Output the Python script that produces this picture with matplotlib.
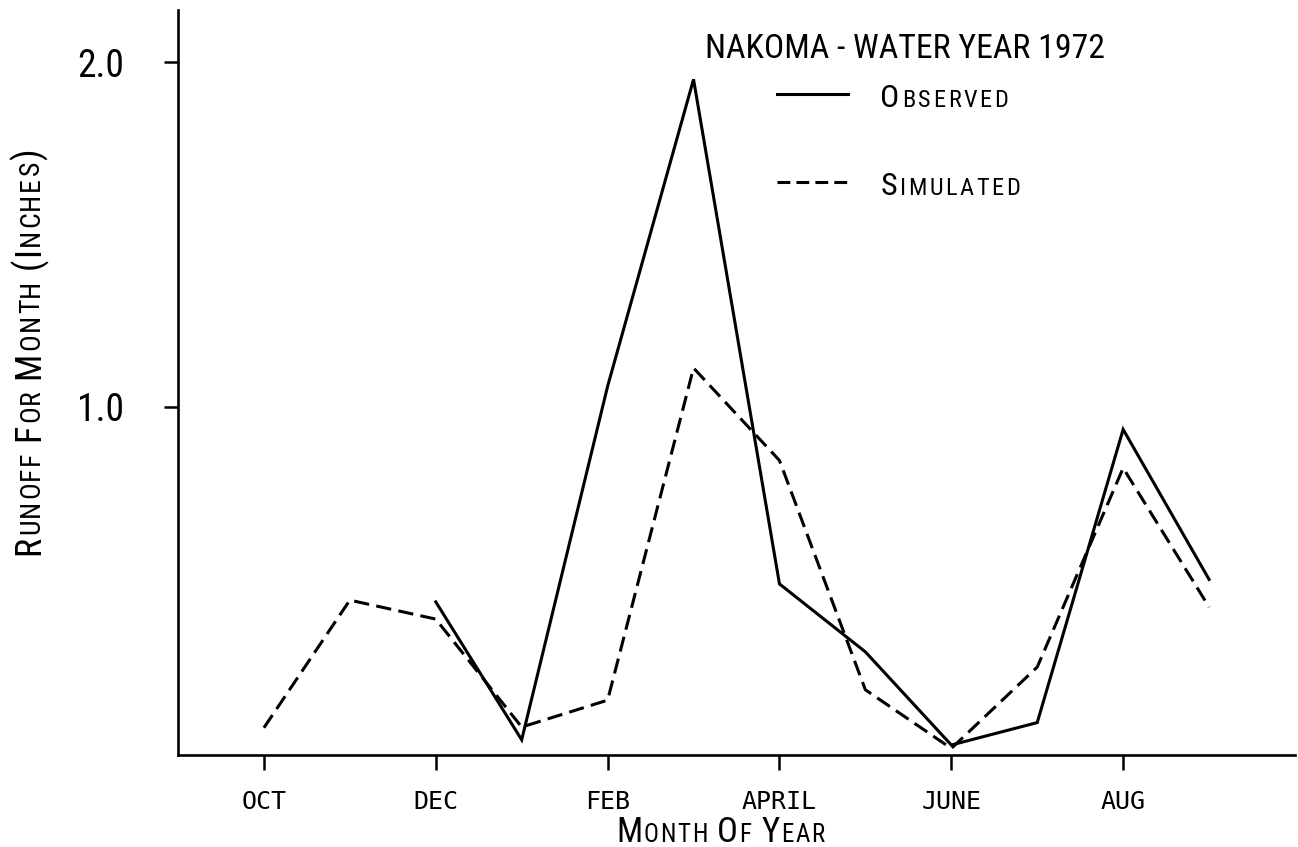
import numpy as np
import matplotlib
matplotlib.use("Agg")
import matplotlib.pyplot as plt
from matplotlib import font_manager as fm
from matplotlib.font_manager import FontProperties

# ---------------- data ----------------
months = ["OCT", "NOV", "DEC", "JAN", "FEB", "MAR", "APR", "MAY", "JUN", "JUL", "AUG", "SEP"]
tick_positions = [0, 2, 4, 6, 8, 10]
tick_labels = ["OCT", "DEC", "FEB", "APRIL", "JUNE", "AUG"]
observed = [np.nan, np.nan, 0.435, 0.035, 1.06, 1.95, 0.487, 0.29, 0.02, 0.085, 0.935, 0.50]
simulated = [0.07, 0.44, 0.385, 0.072, 0.15, 1.113, 0.845, 0.18, 0.01, 0.246, 0.823, 0.42]
y_ticks = [1.0, 2.0]
y_tick_labels = ["1.0", "2.0"]

title = "NAKOMA - WATER YEAR 1972"
xlabel = "Month Of Year"
ylabel = "Runoff For Month (Inches)"
legend_labels = ["Observed", "Simulated"]

# ---------------- fonts ----------------
names = {f.name for f in fm.fontManager.ttflist}
NARROW = "Roboto"
for cand in ["Liberation Sans Narrow", "Roboto Condensed", "Open Sans Condensed",
             "Noto Sans Condensed", "Arial Narrow"]:
    if cand in names:
        NARROW = cand
        break
MONO = "DejaVu Sans Mono"

W, H = 1298, 847
fig = plt.figure(figsize=(W / 100, H / 100), dpi=100)
ax = fig.add_axes([178 / W, 1 - 755 / H, (1295 - 178) / W, (755 - 10) / H])

x = np.arange(len(months))
l1, = ax.plot(x, observed, color="black", lw=2.2, solid_joinstyle="miter")
l2, = ax.plot(x, simulated, color="black", lw=2.2, dashes=(5.0, 2.4))

ax.set_xlim(-1.0, 12.0)
ax.set_ylim(-0.009, 2.151)
for s in ["top", "right"]:
    ax.spines[s].set_visible(False)
for s in ["left", "bottom"]:
    ax.spines[s].set_linewidth(1.9)

ax.set_xticks(tick_positions)
ax.set_xticklabels(tick_labels, fontfamily=MONO, fontsize=18)
ax.set_yticks(y_ticks)
ax.set_yticklabels(y_tick_labels, fontfamily=NARROW, fontsize=27)
ax.tick_params(axis="x", direction="out", length=11, width=1.8, pad=14)
ax.tick_params(axis="y", direction="out", length=10, width=1.8, pad=29)

# title (plain caps)
title_prop = FontProperties(family=NARROW, size=25)
fig.canvas.draw()
renderer = fig.canvas.get_renderer()
tw, th, td = renderer.get_text_width_height_descent(title, title_prop, ismath=False)
if tw > 400:
    title_prop = FontProperties(family=NARROW, size=25 * 400 / tw)
fig.text(705 / W, 1 - 58 / H, title, fontproperties=title_prop,
         ha="left", va="baseline")

# legend (labels overlaid in small caps afterwards)
leg = ax.legend([l1, l2], ["OBSERVED", "SIMULATED"], loc="upper left",
                bbox_to_anchor=((777 - 178) / (1295 - 178), (755 - 86) / (755 - 10)),
                frameon=False, prop={"family": NARROW, "size": 16},
                handlelength=3.2, handletextpad=1.45, labelspacing=3.0,
                borderpad=0, borderaxespad=0)
for lh in leg.get_lines():
    lh.set_linewidth(2.2)
leg.get_lines()[1].set_dashes((4.2, 2.0))

fig.canvas.draw()
renderer = fig.canvas.get_renderer()


def width(s, prop):
    return renderer.get_text_width_height_descent(s, prop, ismath=False)[0]


def smallcaps(x0, y0, text, big, small, family, rotation=0, track=1.0, space=None):
    """x0, y0 in display pixels (origin bottom-left), baseline start.
    Lower-case letters are drawn as small capitals."""
    pos = 0.0
    for ch in text:
        if ch == " ":
            pos += space if space is not None else 0.32 * small * 100 / 72
            continue
        size = small if ch.islower() else big
        prop = FontProperties(family=family, size=size)
        c = ch.upper()
        adv = width(c + c, prop) - width(c, prop)
        if rotation == 0:
            px, py = x0 + pos, y0
        else:
            px, py = x0, y0 + pos
        fig.text(px / W, py / H, c, fontproperties=prop, rotation=rotation,
                 rotation_mode="anchor", ha="left", va="baseline")
        pos += adv + track
    return pos


# legend label overlays
for t, lab in zip(leg.get_texts(), legend_labels):
    bb = t.get_window_extent(renderer)
    w, h, d = renderer.get_text_width_height_descent(t.get_text(), t.get_fontproperties(), ismath=False)
    t.set_alpha(0.0)
    smallcaps(bb.x0, bb.y0 + d, lab, 23, 17.5, NARROW, track=2.6)

# x label
smallcaps(616, H - 842, xlabel, 25, 18, NARROW, track=1.6)
# y label
smallcaps(39, H - 555, ylabel, 26, 20, NARROW, rotation=90, track=1.6)

fig.savefig("out.png", dpi=100)
